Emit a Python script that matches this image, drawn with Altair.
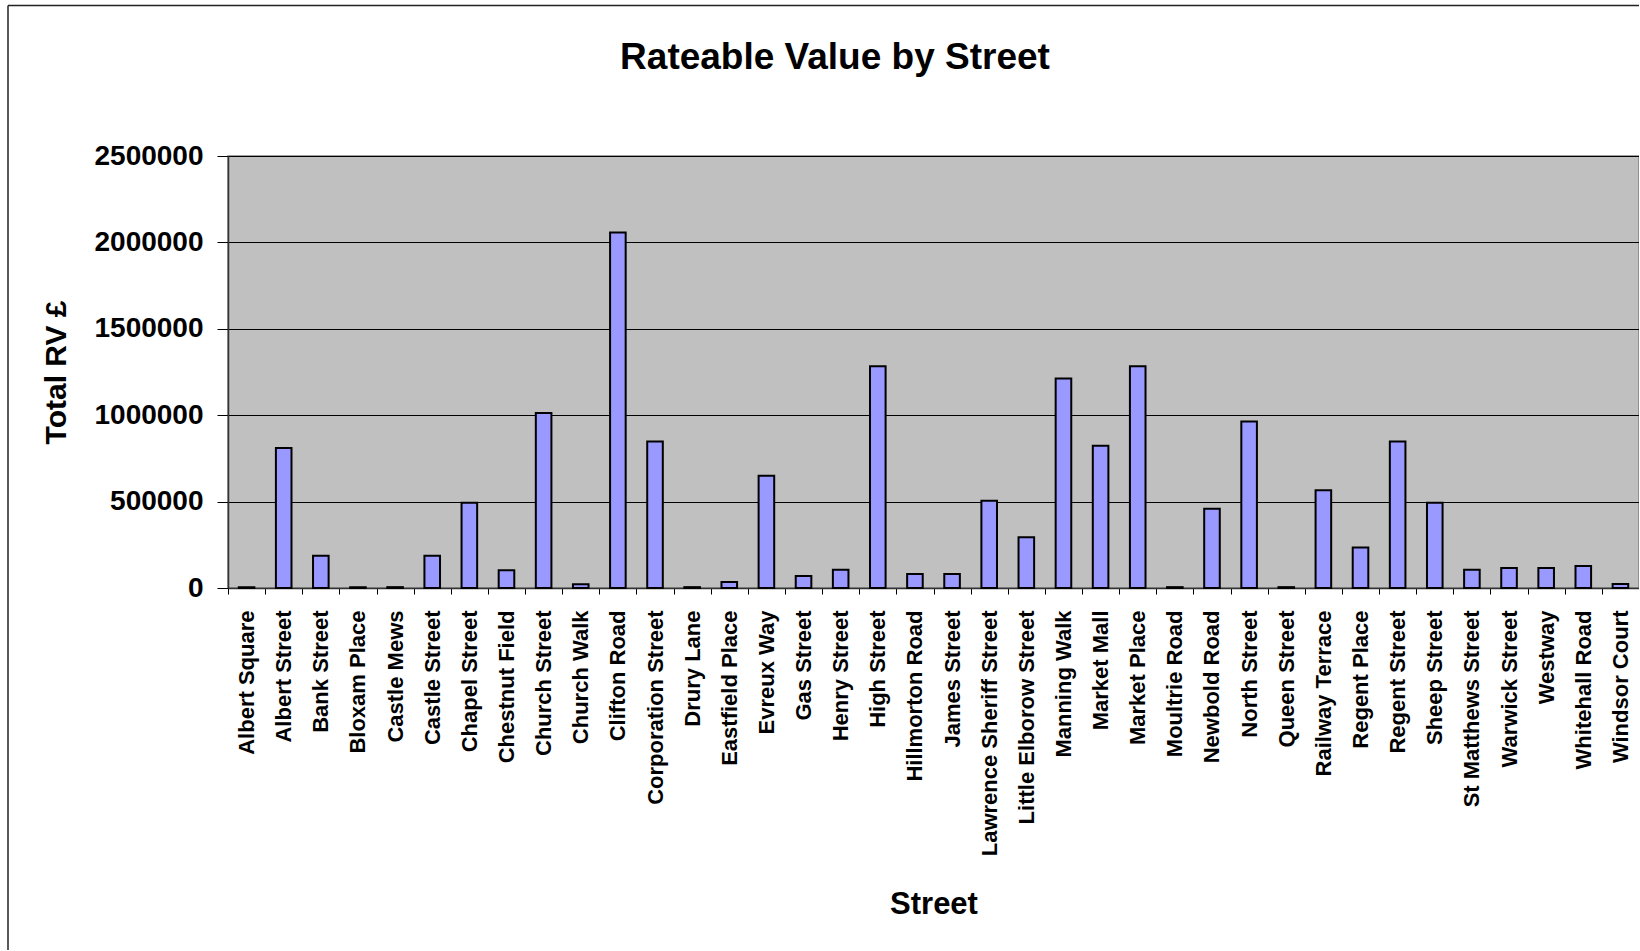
import altair as alt
import pandas as pd

# Streets in axis order and their total rateable value (GBP)
streets = [
    "Albert Square", "Albert Street", "Bank Street", "Bloxam Place", "Castle Mews",
    "Castle Street", "Chapel Street", "Chestnut Field", "Church Street", "Church Walk",
    "Clifton Road", "Corporation Street", "Drury Lane", "Eastfield Place", "Evreux Way",
    "Gas Street", "Henry Street", "High Street", "Hillmorton Road", "James Street",
    "Lawrence Sheriff Street", "Little Elborow Street", "Manning Walk", "Market Mall",
    "Market Place", "Moultrie Road", "Newbold Road", "North Street", "Queen Street",
    "Railway Terrace", "Regent Place", "Regent Street", "Sheep Street",
    "St Matthews Street", "Warwick Street", "Westway", "Whitehall Road", "Windsor Court",
]
rateable_value = [
    5000, 810000, 186000, 5000, 5000,
    186000, 494000, 103000, 1013000, 21000,
    2058000, 848000, 5000, 35000, 649000,
    70000, 105000, 1283000, 81000, 81000,
    505000, 294000, 1212000, 823000,
    1283000, 5000, 459000, 964000, 5000,
    565000, 234000, 848000, 494000,
    105000, 116000, 116000, 128000, 23000,
]
y_ticks = [0, 500000, 1000000, 1500000, 2000000, 2500000]
chart_title = "Rateable Value by Street"

df = pd.DataFrame({"Street": streets, "RV": rateable_value})

W, H = 1411, 432          # plot area
LEFT, TOP = 228, 156      # plot origin inside the page
FONT = "Liberation Sans"

bars = alt.Chart(df).mark_bar(
    width=alt.RelativeBandSize(0.42),
    fill="#9999FF",
    stroke="#000000",
    strokeWidth=2,
).encode(
    x=alt.X(
        "Street:N",
        sort=streets,
        scale=alt.Scale(paddingInner=0, paddingOuter=0),
        axis=alt.Axis(
            title="Street",
            labelAngle=270,
            labelFont=FONT, labelFontWeight="bold", labelFontSize=22, labelColor="#000000",
            labelPadding=16, labelLimit=500, labelOverlap=False,
            tickBand="extent", tickSize=6, tickColor="#000000", tickWidth=1,
            domainColor="#333333", domainWidth=1.5,
            titleFont=FONT, titleFontWeight="bold", titleFontSize=31, titleColor="#000000",
            titleY=325, titleBaseline="alphabetic",
        ),
    ),
    y=alt.Y(
        "RV:Q",
        scale=alt.Scale(domain=[0, 2500000], nice=False),
        axis=alt.Axis(
            title="Total RV £",
            values=y_ticks, format="d",
            labelFont=FONT, labelFontWeight="bold", labelFontSize=28, labelColor="#000000",
            labelPadding=14,
            tickSize=11, tickColor="#000000", tickWidth=1,
            grid=True, gridColor="#000000", gridWidth=1,
            domainColor="#333333", domainWidth=1.5,
            titleFont=FONT, titleFontWeight="bold", titleFontSize=30, titleColor="#000000",
            titleAngle=270, titleX=-172, titleBaseline="middle",
        ),
    ),
)

# Outer chart frame (left and top edges) and the heading above the plot
frame_src = alt.Data(values=[{}])
frame_left = alt.Chart(frame_src).mark_rule(color="#222222", strokeWidth=1.5).encode(
    x=alt.value(-220), y=alt.value(-150.5), y2=alt.value(951 - TOP)
)
frame_top = alt.Chart(frame_src).mark_rule(color="#222222", strokeWidth=1.5).encode(
    x=alt.value(-220), x2=alt.value(1640 - LEFT), y=alt.value(-150.5)
)
heading = alt.Chart(frame_src).mark_text(
    font=FONT, fontWeight="bold", fontSize=37, color="#000000",
    align="center", baseline="alphabetic",
).encode(
    x=alt.value(835 - LEFT), y=alt.value(69 - TOP), text=alt.value(chart_title)
)

chart = alt.layer(bars, frame_left, frame_top, heading).properties(
    width=W,
    height=H,
    background="#FFFFFF",
    autosize=alt.AutoSizeParams(type="none"),
    padding={"left": LEFT, "top": TOP, "right": 0, "bottom": 362},
).configure_view(
    fill="#C0C0C0", stroke="#808080", strokeWidth=1.5
)

chart.save("out.html", embed_options={"renderer": "svg", "actions": False})
